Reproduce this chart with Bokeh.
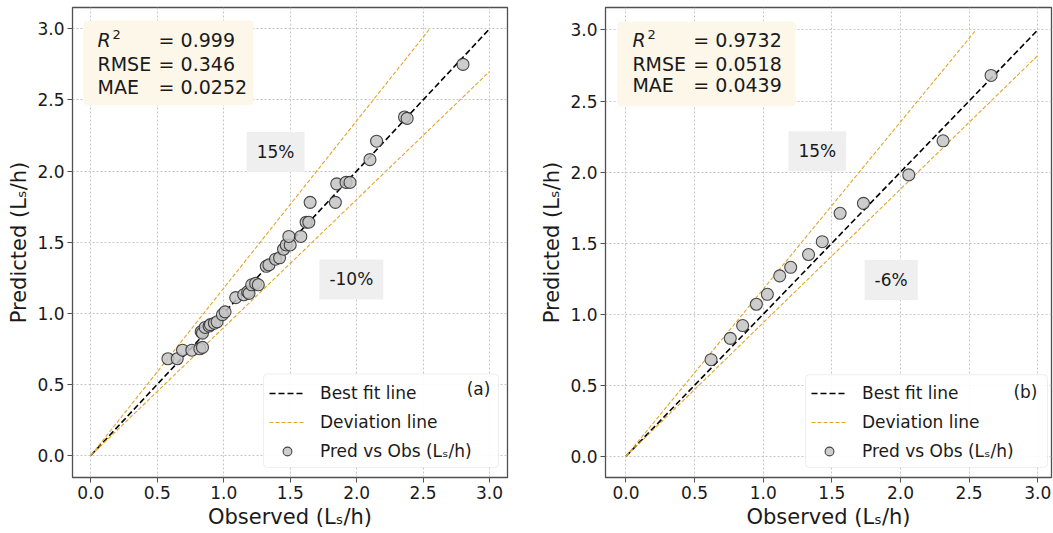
from bokeh.plotting import figure
from bokeh.layouts import row
from bokeh.models import (FixedTicker, NumeralTickFormatter, Label, BoxAnnotation,
                          Legend, LegendItem, Range1d)
from bokeh.embed import file_html
from bokeh.resources import INLINE

# ---------------- data ----------------
obs_a = [0.58, 0.65, 0.69, 0.76, 0.82, 0.84, 0.83, 0.84, 0.86, 0.89, 0.90, 0.93, 0.95,
         0.99, 1.01, 1.09, 1.15, 1.18, 1.19, 1.21, 1.24, 1.26, 1.32, 1.34, 1.39, 1.42,
         1.45, 1.47, 1.50, 1.49, 1.58, 1.62, 1.64, 1.65, 1.84, 1.85, 1.92, 1.95, 2.10,
         2.15, 2.36, 2.38, 2.80]
pred_a = [0.68, 0.68, 0.74, 0.74, 0.75, 0.76, 0.87, 0.86, 0.90, 0.91, 0.92, 0.93, 0.94,
          0.99, 1.01, 1.11, 1.13, 1.15, 1.14, 1.20, 1.21, 1.20, 1.33, 1.34, 1.38, 1.39,
          1.45, 1.48, 1.48, 1.54, 1.54, 1.64, 1.64, 1.78, 1.78, 1.91, 1.92, 1.92, 2.08,
          2.21, 2.38, 2.37, 2.75]

obs_b = [0.62, 0.76, 0.85, 0.95, 1.03, 1.12, 1.20, 1.33, 1.43, 1.56, 1.73, 2.06, 2.31, 2.66]
pred_b = [0.68, 0.83, 0.92, 1.07, 1.14, 1.27, 1.33, 1.42, 1.51, 1.71, 1.78, 1.98, 2.22, 2.68]

ticks = [0.0, 0.5, 1.0, 1.5, 2.0, 2.5, 3.0]
stat_names = ["RMSE", "MAE"]
stats_a = ["0.999", "0.346", "0.0252"]
stats_b = ["0.9732", "0.0518", "0.0439"]
upper_pct_a, lower_pct_a = 15, 10
upper_pct_b, lower_pct_b = 15, 6
tag_a, tag_b = "(a)", "(b)"
fit_max = 3.0

FONT = "DejaVu Sans"
TXT = "#1a1a1a"
LS = "L\u209b"
PAGE_H = 533


def make_panel(obs, pred, stats, up, low, tag, fig_x0, fig_x1, frame, xr, yr,
               stat_box, legend_box, col1, col2, rows, up_pos, low_pos, tag_pos):
    fx0, fx1, fy0, fy1 = frame  # page px of the plot frame
    p = figure(width=fig_x1 - fig_x0, height=PAGE_H, output_backend="svg",
               toolbar_location=None, x_range=Range1d(*xr), y_range=Range1d(*yr),
               min_border_left=fx0 - fig_x0, min_border_right=fig_x1 - fx1,
               min_border_top=fy0, min_border_bottom=PAGE_H - fy1)
    p.background_fill_color = "white"
    p.border_fill_color = "white"
    p.outline_line_color = "#505050"
    p.outline_line_width = 1.3

    sx = (fx1 - fx0) / (xr[1] - xr[0])
    sy = (fy1 - fy0) / (yr[1] - yr[0])

    def dx(px):
        return xr[0] + (px - fx0) / sx

    def dy(py):
        return yr[0] + (fy1 - py) / sy

    for ax in (p.xaxis, p.yaxis):
        ax.ticker = FixedTicker(ticks=ticks)
        ax.formatter = NumeralTickFormatter(format="0.0")
        ax.major_label_text_font = FONT
        ax.major_label_text_font_size = "17px"
        ax.major_label_text_color = TXT
        ax.axis_label_text_font = FONT
        ax.axis_label_text_font_size = "21px"
        ax.axis_label_text_font_style = "normal"
        ax.axis_label_text_color = TXT
        ax.axis_line_color = None
        ax.major_tick_line_color = "#505050"
        ax.major_tick_out = 5
        ax.major_tick_in = 0
        ax.minor_tick_line_color = None
        ax.major_label_standoff = 3
        ax.axis_label_standoff = 3
    p.xaxis.axis_label = "Observed (" + LS + "/h)"
    p.yaxis.axis_label = "Predicted (" + LS + "/h)"

    for g in (p.xgrid, p.ygrid):
        g.ticker = FixedTicker(ticks=ticks)
        g.grid_line_color = "#bfbfbf"
        g.grid_line_dash = "2 2"
        g.grid_line_width = 0.9

    best = p.line([0, fit_max], [0, fit_max], line_color="black", line_width=1.6,
                  line_dash="6 3")
    up_line = p.line([0, fit_max * (1 - up / 100)], [0, fit_max], line_color="#e0a628",
                     line_width=1.1, line_dash="4 2")
    p.line([0, fit_max], [0, fit_max * (1 - low / 100)], line_color="#e0a628",
           line_width=1.1, line_dash="4 2")
    sc = p.scatter(obs, pred, size=12, fill_color="#c4c4c4", fill_alpha=0.85,
                   line_color="#2a2a2a", line_alpha=0.85, line_width=1.1)

    # legend frame (drawn as a rounded box), then the legend entries on top
    lx0, lx1, ly0, ly1 = legend_box
    p.add_layout(BoxAnnotation(left=dx(lx0), right=dx(lx1), top=dy(ly0), bottom=dy(ly1),
                               fill_color="white", fill_alpha=0.9, line_color="#c8c8c8",
                               line_width=1, border_radius=4))
    legend = Legend(items=[LegendItem(label="Best fit line", renderers=[best]),
                           LegendItem(label="Deviation line", renderers=[up_line]),
                           LegendItem(label="Pred vs Obs (" + LS + "/h)", renderers=[sc])],
                    location=(lx0 - fx0 + 6, fy1 - ly1 + 5), label_text_font=FONT,
                    label_text_font_size="17px", label_text_color=TXT,
                    glyph_width=36, glyph_height=22, label_height=22, label_width=150,
                    spacing=7, padding=7, label_standoff=15,
                    border_line_color=None, background_fill_alpha=0.0, margin=0)
    p.add_layout(legend)
    p.add_layout(Label(x=tag_pos[0], y=tag_pos[1], text=tag, text_align="center",
                       text_baseline="middle", text_font=FONT, text_font_size="17px",
                       text_color=TXT))

    # stats box
    bx0, bx1, by0, by1 = stat_box
    p.add_layout(BoxAnnotation(left=dx(bx0), right=dx(bx1), top=dy(by0), bottom=dy(by1),
                               fill_color="#fdf7e9", fill_alpha=1.0, line_color=None,
                               border_radius=4))
    p.add_layout(Label(x=col1, y=rows[0], text="R", text_baseline="middle",
                       text_font=FONT, text_font_size="19px", text_font_style="italic",
                       text_color=TXT))
    p.add_layout(Label(x=col1, y=rows[0], text="2", text_baseline="middle", x_offset=15,
                       y_offset=6, text_font=FONT, text_font_size="13px", text_color=TXT))
    for name, yy in zip(stat_names, rows[1:]):
        p.add_layout(Label(x=col1, y=yy, text=name, text_baseline="middle",
                           text_font=FONT, text_font_size="19px", text_color=TXT))
    for val, yy in zip(stats, rows):
        p.add_layout(Label(x=col2, y=yy, text="= " + val, text_baseline="middle",
                           text_font=FONT, text_font_size="19px", text_color=TXT))

    for txt, pos in ((str(up) + "%", up_pos), ("-" + str(low) + "%", low_pos)):
        p.add_layout(Label(x=pos[0], y=pos[1], text=txt, text_align="center",
                           text_baseline="middle", text_font=FONT, text_font_size="17px",
                           text_color=TXT, background_fill_color="#efefef",
                           background_fill_alpha=1.0, padding=10))
    return p


pa = make_panel(obs_a, pred_a, stats_a, upper_pct_a, lower_pct_a, tag_a, 0, 530,
                (72, 507, 5, 477), (-0.138, 3.135), (-0.155, 3.15),
                (83, 253, 18, 103), (263, 498, 373, 467),
                0.05, 0.51, (2.92, 2.755, 2.59), (1.39, 2.134), (1.96, 1.238), (2.917, 0.466))
pb = make_panel(obs_b, pred_b, stats_b, upper_pct_b, lower_pct_b, tag_b, 530, 1053,
                (605, 1051, 7, 478), (-0.149, 3.10), (-0.149, 3.158),
                (617, 795, 21, 106), (805, 1047, 375, 468),
                0.047, 0.491, (2.926, 2.763, 2.61), (1.394, 2.147), (1.932, 1.241), (2.91, 0.454))

layout = row(pa, pb)
open("out.html", "w").write(file_html(layout, INLINE))
